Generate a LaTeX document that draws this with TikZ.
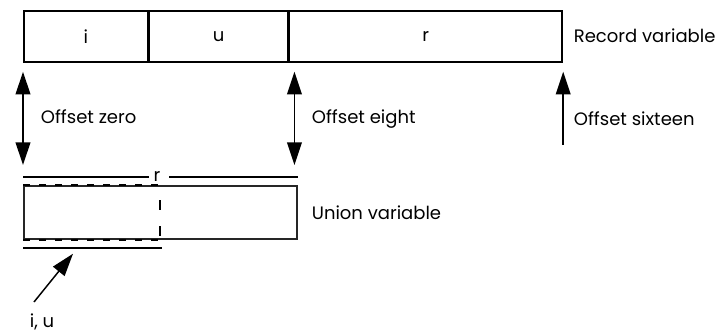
\documentclass[tikz,border=0pt]{standalone}
\usepackage{fontspec}
\setmainfont{Poppins}
\usetikzlibrary{positioning, arrows.meta, calc}

\begin{document}
\begin{tikzpicture}[x=0.75pt, y=-0.75pt, line width=1.3pt,
    field/.style={rectangle, draw, line width=1.3pt, minimum height=38.25pt, inner sep=0pt, anchor=north west, font=\fontsize{13.5}{15}\selectfont},
    lbl/.style={anchor=west, inner sep=0pt, font=\fontsize{13.5}{15}\selectfont},
    tip/.style={-{Triangle[length=17pt, width=11pt]}},
    dtip/.style={{Triangle[length=17pt, width=11pt]}-{Triangle[length=17pt, width=11pt]}}]
\useasboundingbox (0,0) rectangle (719,333);

\node[field, minimum width=93pt] (ci) at (23,10) {i};
\node[field, minimum width=103.5pt] (cu) at (ci.north east) {u};
\node[field, minimum width=204.75pt] (cr) at (cu.north east) {r};
\node[lbl] (recvar) at (573,36) {Record variable};

\node[field, draw=black!85, minimum width=204.75pt, minimum height=39.75pt] (un) at (23,185) {};
\node[lbl] (unvar) at (311,213) {Union variable};

\coordinate (ucut) at (160,185);
\draw[black, line width=1.5pt, dash pattern=on 5.25pt off 6.75pt] (un.north west) -- (un.north west -| ucut);
\draw[black, line width=1.5pt, dash pattern=on 5.25pt off 6.75pt] (un.south west) -- (un.south west -| ucut);
\draw[black, line width=1.3pt, dash pattern=on 7.5pt off 12pt, dash phase=8.25pt] (ucut) -- (ucut |- un.south);

\coordinate (rl) at ([yshift=6pt]un.north west);
\node[inner sep=0pt, font=\fontsize{13.5}{15}\selectfont] (rlab) at (157,176) {r};
\draw (rl) -- (rl -| ci.east);
\draw ($(rl -| rlab.east)+(8,0)$) -- (rl -| un.east);
\draw ([yshift=-6pt]un.south west) -- ++(139,0);

\coordinate (z0) at ([yshift=-6.75pt]ci.south west);
\draw[dtip] (z0) -- ($(z0 |- rl)+(0,-12)$);
\node[lbl] (ozero) at (40,117) {Offset zero};

\coordinate (e8) at ([xshift=4.5pt, yshift=-6.75pt]cu.south east);
\draw[dtip] (e8) -- ($(e8 |- rl)+(0,-12)$);
\node[lbl] (oeight) at (311,119) {Offset eight};

\coordinate (s16) at ([yshift=-6.75pt]cr.south east);
\draw[tip] ($(s16)+(0,73)$) -- (s16);
\node[lbl] (osixteen) at (573,119) {Offset sixteen};

\node[inner sep=0pt, font=\fontsize{13.5}{15}\selectfont] (iu) at (42,322) {i, u};
\draw[tip, line width=1.1pt] ($(iu.north)+(-8,-11)$) -- ($(un.south west)+(50,14)$);

\end{tikzpicture}
\end{document}
